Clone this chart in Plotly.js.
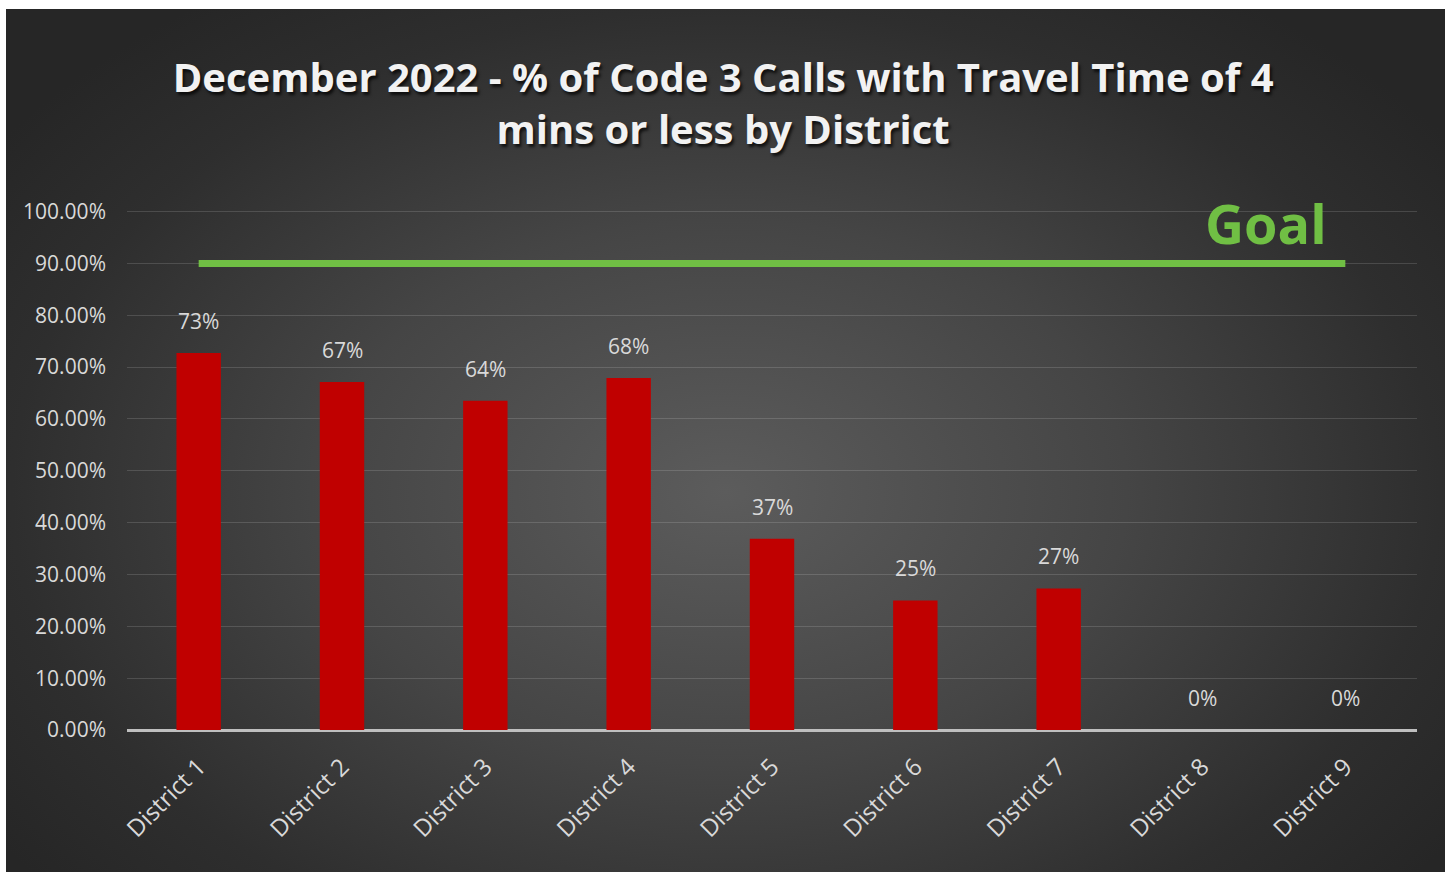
<!DOCTYPE html>
<html>
<head>
<meta charset="utf-8">
<script src="https://cdn.plot.ly/plotly-3.0.1.min.js"></script>
<style>
  html, body { margin: 0; padding: 0; background: #ffffff; }
  #frame {
    position: absolute; left: 6px; top: 9px; width: 1439px; height: 863px;
    background: radial-gradient(ellipse 62% 70% at 50% 56%, #5c5c5c 0%, #454545 45%, #2e2e2e 80%, #262626 100%);
  }
  #chart { position: absolute; left: 0; top: 0; width: 1455px; height: 872px; }
</style>
</head>
<body>
<div id="frame"></div>
<div id="chart"></div>
<script>
var districts = ["District 1", "District 2", "District 3", "District 4", "District 5",
                 "District 6", "District 7", "District 8", "District 9"];
var pctWithin4 = [72.7, 67.1, 63.5, 67.9, 36.9, 25.0, 27.3, 0, 0];
var pctLabels = ["73%", "67%", "64%", "68%", "37%", "25%", "27%", "0%", "0%"];
var goal = [90, 90, 90, 90, 90, 90, 90, 90, 90];
var yTicks = [0, 10, 20, 30, 40, 50, 60, 70, 80, 90, 100];
var yTickText = ["0.00%", "10.00%", "20.00%", "30.00%", "40.00%", "50.00%",
                 "60.00%", "70.00%", "80.00%", "90.00%", "100.00%"];

var labelFont = { family: "Open Sans, sans-serif", size: 21, color: "#d9d9d9" };

var bars = {
    x: districts,
    y: pctWithin4,
    type: "bar",
    marker: { color: "#c00000" },
    hoverinfo: "x+y"
};
var goalLine = {
    x: districts,
    y: goal,
    type: "scatter",
    mode: "lines",
    line: { color: "#70bf44", width: 7 },
    hoverinfo: "y"
};

var annotations = districts.map(function(d, i) {
    return {
        x: d, y: pctWithin4[i], xref: "x", yref: "y",
        text: pctLabels[i], showarrow: false,
        yshift: 32, yanchor: "middle",
        font: labelFont
    };
});
annotations.push({
    x: districts[8], y: goal[8], xref: "x", yref: "y",
    xanchor: "right", yanchor: "bottom", xshift: -16, yshift: 1,
    text: "<b>Goal</b>", showarrow: false,
    font: { family: "Open Sans, sans-serif", size: 54, color: "#70bf44" }
});

var layout = {
    width: 1455,
    height: 872,
    paper_bgcolor: "rgba(0,0,0,0)",
    plot_bgcolor: "rgba(0,0,0,0)",
    margin: { l: 127, r: 38, t: 210, b: 142 },
    showlegend: false,
    bargap: 0.69,
    title: {
        text: "<b>December 2022 - % of Code 3 Calls with Travel Time of 4<br>mins or less by District</b>",
        x: 0.497, xanchor: "center",
        y: 1 - 91.5 / 872, yanchor: "middle", yref: "container",
        font: { family: "Open Sans, sans-serif", size: 40, color: "#f2f2f2",
                shadow: "2px 3px 3px rgba(0,0,0,0.7)" }
    },
    xaxis: {
        type: "category",
        tickangle: -45,
        tickfont: { family: "Open Sans, sans-serif", size: 24, color: "#d9d9d9" },
        showgrid: false,
        showline: false,
        ticks: "",
        ticklabelstandoff: 17
    },
    yaxis: {
        range: [0, 100.3],
        tickvals: yTicks,
        ticktext: yTickText,
        tickfont: labelFont,
        gridcolor: "rgba(255,255,255,0.14)",
        gridwidth: 1,
        zeroline: true,
        zerolinecolor: "#bfbfbf",
        zerolinewidth: 2.5,
        ticklabelstandoff: 20,
        showline: false
    },
    annotations: annotations
};

Plotly.newPlot("chart", [bars, goalLine], layout, { displayModeBar: false });
</script>
</body>
</html>
